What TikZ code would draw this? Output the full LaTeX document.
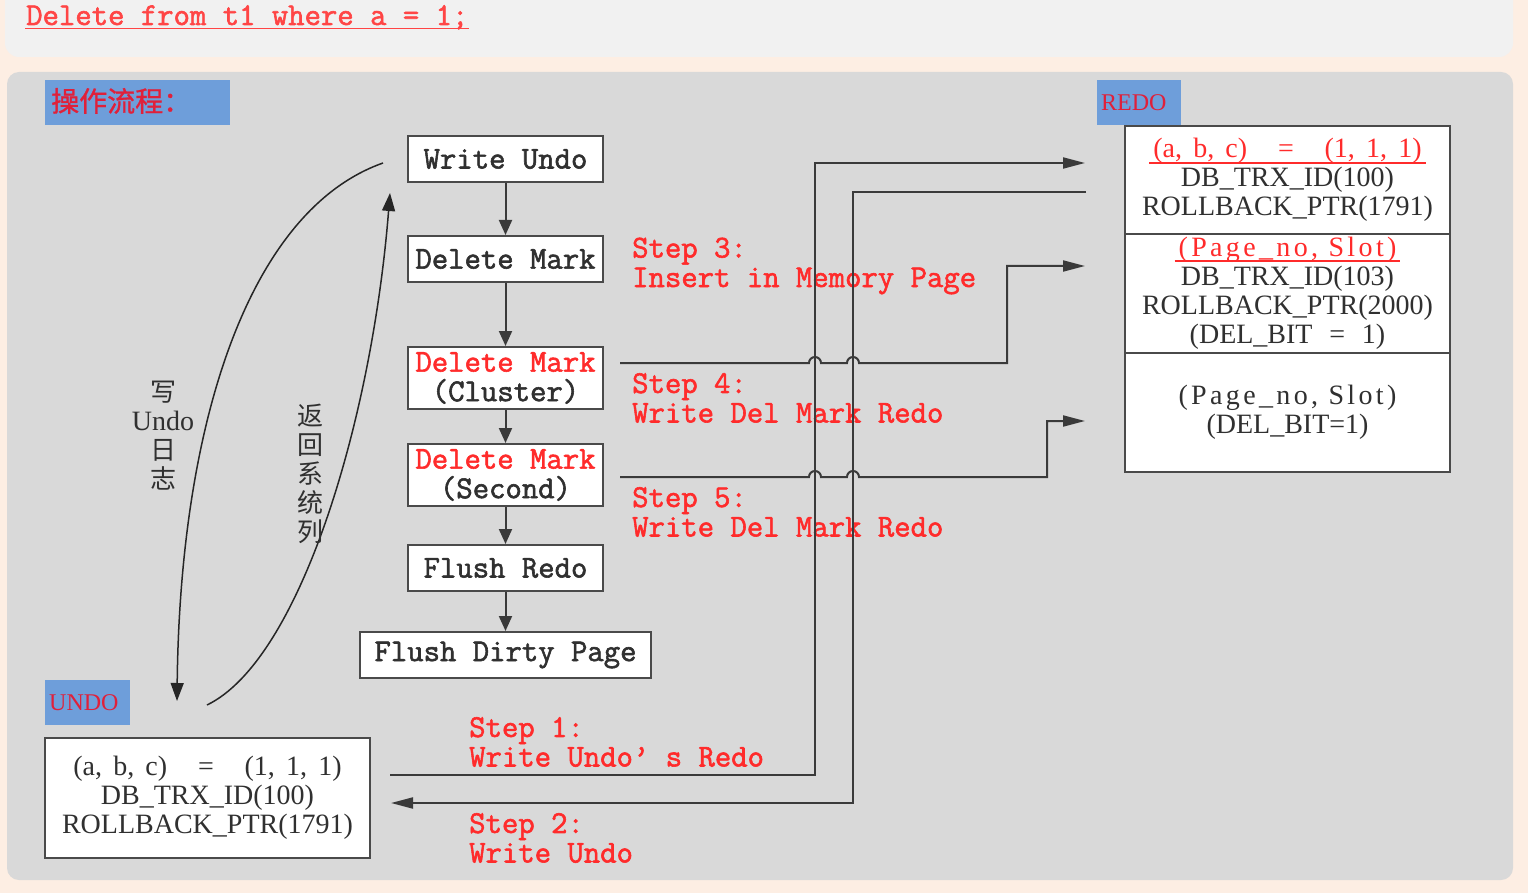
\documentclass[tikz,border=0pt]{standalone}
\usepackage{fontspec}
\setmainfont{Liberation Serif}
\newfontfamily\monofam{Latin Modern Mono}[FakeBold=1.8]
\newfontfamily\serifwide{Liberation Serif}[LetterSpace=12]
\newfontfamily\cjk{Noto Sans CJK SC}
\newfontfamily\cjkhead{Noto Sans CJK SC}[FakeBold=1]
\usetikzlibrary{arrows.meta}
\definecolor{peach}{HTML}{FDEEE3}
\definecolor{toppanel}{HTML}{F1F1F1}
\definecolor{panel}{HTML}{D9D9D9}
\definecolor{tagblue}{HTML}{6E9EDA}
\definecolor{tagred}{HTML}{E0203A}
\definecolor{stepred}{HTML}{FF2B2B}
\definecolor{sqlred}{HTML}{FF4545}
\definecolor{darktext}{HTML}{303030}
\definecolor{boxline}{HTML}{4A4A4A}
\definecolor{connline}{HTML}{3A3A3A}
\newsavebox\ulbox
% #1 depth of rule, #2 extension on each side, #3 text
\newcommand\ulred[3]{\sbox\ulbox{#3}\hspace*{-#2}\rlap{\rule[-#1]{\dimexpr\wd\ulbox+#2+#2\relax}{1.4pt}}\hspace*{#2}\usebox\ulbox}
\newcommand\tuple[3]{(#1,\hspace{0.4em}#2,\hspace{0.4em}#3)}
\tikzset{
  monotext/.style={font=\monofam\fontsize{31.8}{29.5}\selectfont},
  flowbox/.style={monotext, draw=boxline, line width=2pt, fill=white,
    minimum width=195pt, minimum height=46pt, inner sep=0pt, text=darktext, align=center},
  databox/.style={draw=boxline, line width=2pt, fill=white, inner sep=0pt,
    font=\fontsize{28}{29}\selectfont, text=darktext, align=center,
    minimum width=325pt, anchor=north west},
  steplabel/.style={monotext, text=stepred, align=left, anchor=west, inner sep=0pt},
  tagbox/.style={fill=tagblue, inner sep=0pt, minimum height=45pt, anchor=north west},
  tagtext/.style={text=tagred, inner sep=0pt, anchor=west, font=\fontsize{24}{24}\selectfont},
  flowarrow/.style={draw=connline, line width=2pt, -{Triangle[length=15pt,width=13pt]}},
  conn/.style={draw=connline, line width=2pt},
  connarrow/.style={conn, -{Triangle[length=22pt,width=11pt]}},
  curvearrow/.style={draw=black!85, line width=1.5pt, -{Triangle[length=18pt,width=13pt]}},
  vlabel/.style={align=center, inner sep=0pt, text=darktext, font=\fontsize{26}{29}\selectfont}
}
\begin{document}
\begin{tikzpicture}[x=1pt,y=1pt]
\useasboundingbox (0,0) rectangle (1528,-893);
\fill[peach] (0,0) rectangle (1528,-893);
\fill[toppanel, rounded corners=14pt] (5,20) rectangle (1513,-57);
\fill[panel, rounded corners=12pt] (7,-72) rectangle (1513,-880);

% SQL statement
\node[monotext, text=sqlred, anchor=base west, inner sep=0pt] (sql) at (26,-25)
  {\ulred{4pt}{1pt}{Delete from t1 where a = 1;}};

% tags
\node[tagbox, minimum width=185pt] (hdr) at (45,-80) {};
\node[tagtext, font=\cjkhead\fontsize{28}{28}\selectfont] (hdrt) at (51,-101) {操作流程：};
\node[tagbox, minimum width=84pt] (redotag) at (1097,-80) {};
\node[tagtext] (redot) at (1101,-103) {REDO};
\node[tagbox, minimum width=85pt] (undotag) at (45,-680) {};
\node[tagtext] (undot) at (49,-703) {UNDO};

% flow
\node[flowbox] (wu) at (505.5,-159) {Write Undo};
\node[flowbox] (dm) at (505.5,-259) {Delete Mark};
\node[flowbox, minimum height=62pt] (dmc) at (505.5,-378) {\textcolor{stepred}{Delete Mark}\\(Cluster)};
\node[flowbox, minimum height=62pt] (dms) at (505.5,-475) {\textcolor{stepred}{Delete Mark}\\(Second)};
\node[flowbox] (fr) at (505.5,-568) {Flush Redo};
\node[flowbox, minimum width=291pt] (fdp) at (505.5,-655) {Flush Dirty Page};
\draw[flowarrow] (wu) -- (dm);
\draw[flowarrow] (dm) -- (dmc);
\draw[flowarrow] (dmc) -- (dms);
\draw[flowarrow] (dms) -- (fr);
\draw[flowarrow] (fr) -- (fdp);

% redo record
\node[databox, minimum height=108pt] (r1) at (1124,-125)
  {\textcolor{stepred}{\ulred{6pt}{4pt}{\tuple{a}{b}{c}\hspace{1.1em}=\hspace{1.1em}\tuple{1}{1}{1}}}\\
   DB\_TRX\_ID(100)\\ROLLBACK\_PTR(1791)};
\node[databox, minimum height=119pt] (r2) at (1124,-233)
  {\textcolor{stepred}{\ulred{5pt}{4pt}{\serifwide (Page\_no, Slot)}}\\
   DB\_TRX\_ID(103)\\ROLLBACK\_PTR(2000)\\(DEL\_BIT\hspace{0.6em}=\hspace{0.6em}1)};
\node[databox, minimum height=119pt] (r3) at (1124,-352)
  {{\serifwide (Page\_no, Slot)}\\(DEL\_BIT=1)};

% undo record
\node[databox, minimum height=120pt] (ub) at (44,-737)
  {\tuple{a}{b}{c}\hspace{1.1em}=\hspace{1.1em}\tuple{1}{1}{1}\\
   DB\_TRX\_ID(100)\\ROLLBACK\_PTR(1791)};

% step labels
\node[steplabel] (st3) at (632,-266) {Step 3:\\Insert in Memory Page};
\node[steplabel] (st4) at (632,-398) {Step 4:\\Write Del Mark Redo};
\node[steplabel] (st5) at (632,-512) {Step 5:\\Write Del Mark Redo};
\node[steplabel] (st1) at (469,-742) {Step 1:\\Write Undo’ s Redo};
\node[steplabel] (st2) at (469,-838) {Step 2:\\Write Undo};

% connectors
\coordinate (s1a) at (390,-775);
\coordinate (v1top) at (815,-163);
\coordinate (s1b) at (1085,-163);
\draw[connarrow] (s1a) -| (v1top) -- (s1b);

\coordinate (s2a) at (1086,-192);
\coordinate (v2top) at (853,-192);
\coordinate (s2b) at (391,-803);
\draw[connarrow] (s2a) -- (v2top) |- (s2b);

\coordinate (s3a) at (620,-363);
\coordinate (s3b) at (1085,-266);
\draw[connarrow] (s3a) -- (809,-363) arc[start angle=180,end angle=0,radius=6]
  -- (847,-363) arc[start angle=180,end angle=0,radius=6] -- (1007,-363) |- (s3b);

\coordinate (s4a) at (620,-477);
\coordinate (s4b) at (1085,-421);
\draw[connarrow] (s4a) -- (809,-477) arc[start angle=180,end angle=0,radius=6]
  -- (847,-477) arc[start angle=180,end angle=0,radius=6] -- (1047,-477) |- (s4b);

% curved arrows
\coordinate (ca) at (383,-163);
\coordinate (cb) at (177,-701);
\draw[curvearrow] (ca) .. controls (250,-210) and (180,-420) .. (cb);
\coordinate (cc) at (207,-705);
\coordinate (cd) at (390,-193);
\draw[curvearrow] (cc) .. controls (300,-660) and (372,-420) .. (cd);

% vertical labels
\node[vlabel] (lw) at (163,-436) {{\cjk 写}\\{\fontsize{28}{29}\selectfont Undo}\\{\cjk 日}\\{\cjk 志}};
\node[vlabel] (lr) at (310,-474) {{\cjk 返}\\{\cjk 回}\\{\cjk 系}\\{\cjk 统}\\{\cjk 列}};
\end{tikzpicture}
\end{document}
